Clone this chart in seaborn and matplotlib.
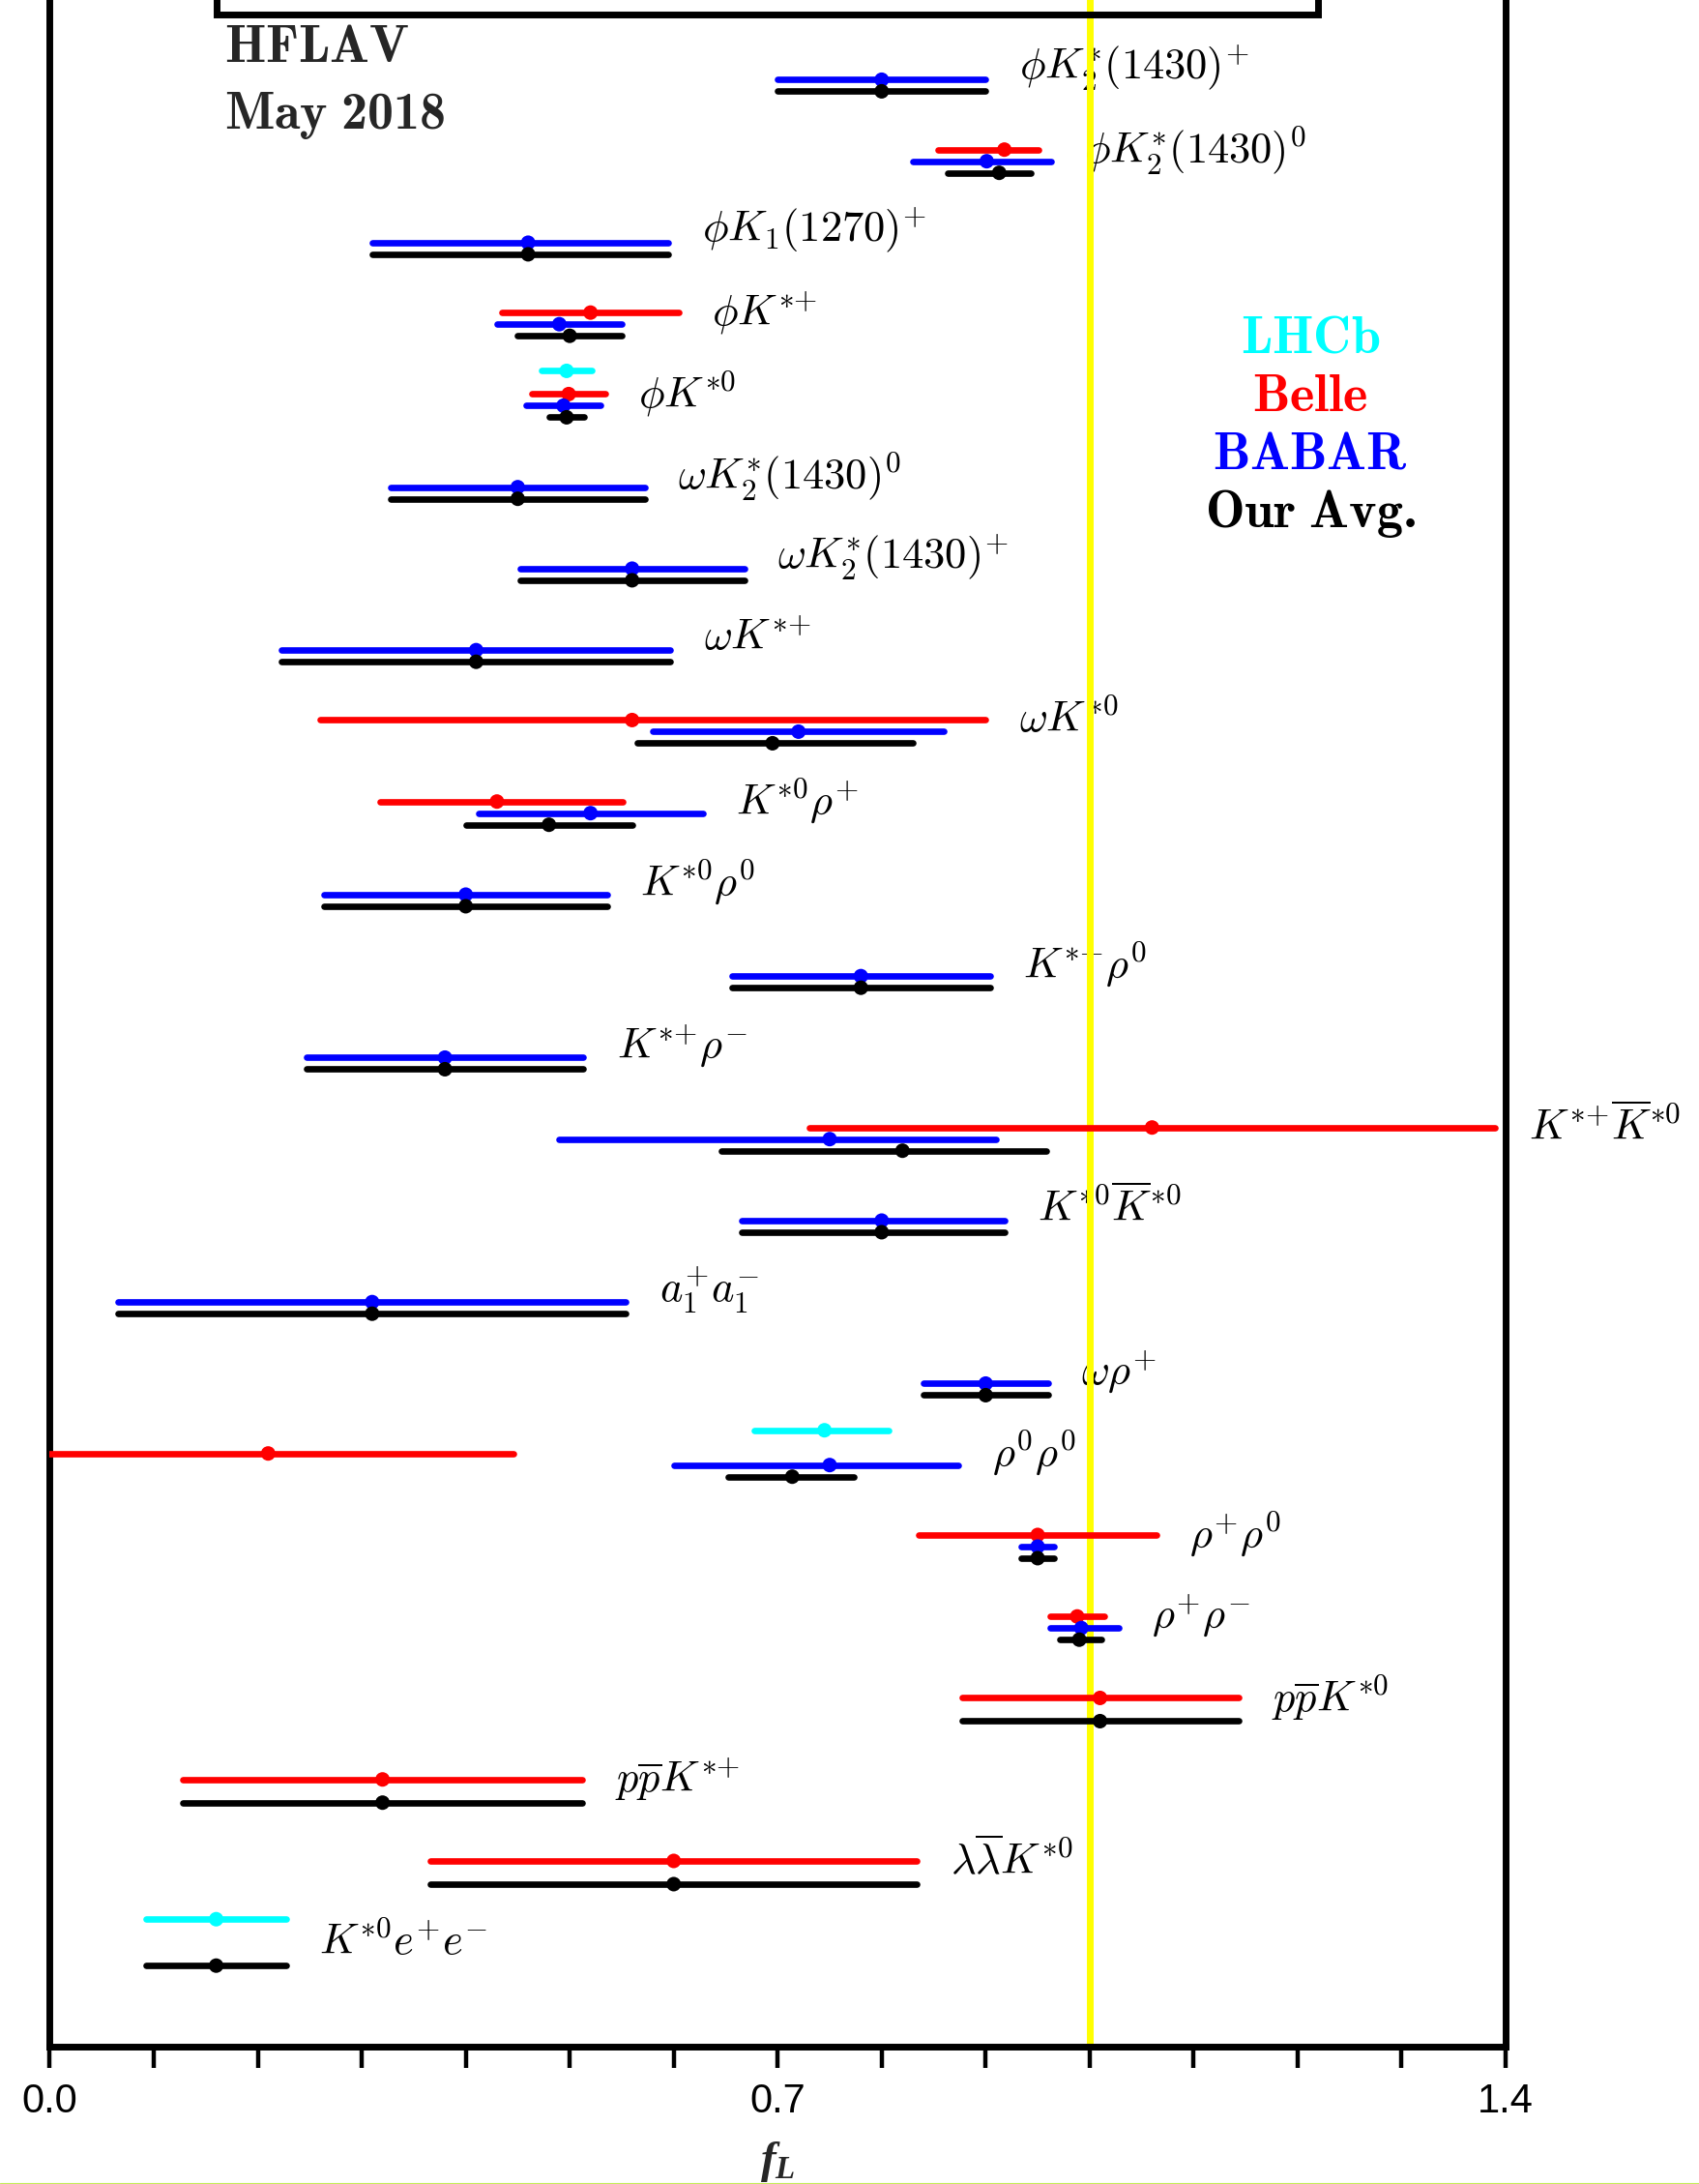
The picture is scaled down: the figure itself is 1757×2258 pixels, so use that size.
import numpy as np
import pandas as pd
import matplotlib
matplotlib.use("Agg")
import matplotlib.pyplot as plt
import seaborn as sns
from matplotlib.patches import Rectangle
from matplotlib.lines import Line2D

# ---------------- data ----------------
modes = [
    r'$\phi K_2^{*}(1430)^{+}$', r'$\phi K_2^{*}(1430)^{0}$', r'$\phi K_1(1270)^{+}$',
    r'$\phi K^{*{+}}$', r'$\phi K^{*0}$', r'$\omega K_2^{*}(1430)^{0}$',
    r'$\omega K_2^{*}(1430)^{+}$', r'$\omega K^{*{+}}$', r'$\omega K^{*0}$',
    r'$K^{*0}\rho^{+}$', r'$K^{*0}\rho^{0}$', r'$K^{*{+}}\rho^{0}$', r'$K^{*{+}}\rho^{-}$',
    r'$K^{*{+}}\overline{K}^{*0}$', r'$K^{*0}\overline{K}^{*0}$', r'$a_1^{+}a_1^{-}$',
    r'$\omega\rho^{+}$', r'$\rho^{0}\rho^{0}$', r'$\rho^{+}\rho^{0}$', r'$\rho^{+}\rho^{-}$',
    r'$p\overline{p}K^{*0}$', r'$p\overline{p}K^{*{+}}$',
    r'$\lambda\overline{\lambda}K^{*0}$', r'$K^{*0}e^{+}e^{-}$',
]

lhcb_modes = [4, 17, 23]
lhcb_val = [0.497, 0.745, 0.160]
lhcb_lo = [0.473, 0.677, 0.093]
lhcb_hi = [0.521, 0.807, 0.227]

belle_modes = [1, 3, 4, 8, 9, 13, 17, 18, 19, 20, 21, 22]
belle_val = [0.918, 0.52, 0.499, 0.56, 0.43, 1.06, 0.21, 0.95, 0.988, 1.01, 0.32, 0.60]
belle_lo = [0.854, 0.435, 0.464, 0.26, 0.318, 0.73, -0.03, 0.836, 0.962, 0.877, 0.128, 0.366]
belle_hi = [0.951, 0.605, 0.534, 0.90, 0.551, 1.39, 0.446, 1.064, 1.014, 1.143, 0.512, 0.834]

babar_modes = list(range(20))
babar_val = [0.80, 0.901, 0.46, 0.49, 0.494, 0.45, 0.56, 0.41, 0.72, 0.52,
             0.40, 0.78, 0.38, 0.75, 0.80, 0.31, 0.90, 0.75, 0.95, 0.992]
babar_lo = [0.70, 0.830, 0.31, 0.43, 0.458, 0.328, 0.452, 0.223, 0.58, 0.412,
            0.264, 0.656, 0.247, 0.49, 0.665, 0.066, 0.84, 0.60, 0.934, 0.962]
babar_hi = [0.90, 0.963, 0.595, 0.55, 0.530, 0.572, 0.668, 0.597, 0.86, 0.628,
            0.536, 0.904, 0.513, 0.91, 0.918, 0.554, 0.96, 0.874, 0.966, 1.028]

avg_modes = list(range(24))
avg_val = [0.80, 0.913, 0.46, 0.50, 0.497, 0.45, 0.56, 0.41, 0.695, 0.48, 0.40, 0.78,
           0.38, 0.82, 0.80, 0.31, 0.90, 0.714, 0.95, 0.990, 1.01, 0.32, 0.60, 0.16]
avg_lo = [0.70, 0.863, 0.31, 0.45, 0.480, 0.328, 0.452, 0.223, 0.565, 0.40, 0.264, 0.656,
          0.247, 0.646, 0.665, 0.066, 0.84, 0.652, 0.934, 0.971, 0.877, 0.128, 0.366, 0.093]
avg_hi = [0.90, 0.943, 0.595, 0.55, 0.514, 0.572, 0.668, 0.597, 0.83, 0.56, 0.536, 0.904,
          0.513, 0.958, 0.918, 0.554, 0.96, 0.773, 0.966, 1.011, 1.143, 0.512, 0.834, 0.227]

experiments = ['LHCb', 'Belle', 'BABAR', 'Avg']
legend_texts = [r'$\mathbf{LHCb}$', r'$\mathbf{Belle}$', r'$\mathbf{BABAR}$', r'$\mathbf{Our\ Avg.}$']
tick_vals = [round(0.1 * i, 1) for i in range(15)]
tick_labels = ['0.0' if v == 0.0 else '0.7' if v == 0.7 else '1.4' if v == 1.4 else '' for v in tick_vals]

# ---------------- style ----------------
colors = {'LHCb': '#00ffff', 'Belle': '#ff0000', 'BABAR': '#0000ff', 'Avg': '#000000'}
slot = {'LHCb': 0, 'Belle': 2, 'BABAR': 3, 'Avg': 4}
slot_step = 0.1424

sns.set_theme(style='white')
plt.rcParams.update({
    'font.family': ['Liberation Sans', 'DejaVu Sans'],
    'mathtext.fontset': 'cm',
    'mathtext.it': 'Liberation Serif:italic:bold',
    'mathtext.rm': 'cmb10',
    'mathtext.bf': 'cmb10',
})

frames = []
for name, m, v, lo, hi in [
    ('LHCb', lhcb_modes, lhcb_val, lhcb_lo, lhcb_hi),
    ('Belle', belle_modes, belle_val, belle_lo, belle_hi),
    ('BABAR', babar_modes, babar_val, babar_lo, babar_hi),
    ('Avg', avg_modes, avg_val, avg_lo, avg_hi),
]:
    frames.append(pd.DataFrame({'group': m, 'exp': name, 'val': v, 'lo': lo, 'hi': hi}))
df = pd.concat(frames, ignore_index=True)
df['y'] = df['group'] + (df['exp'].map(slot) - 2) * slot_step

fig = plt.figure(figsize=(17.58, 22.58), dpi=100)
ax = fig.add_axes([0.02929, 0.06267, 0.85637, 0.96211])
ax.set_facecolor('white')

for name in experiments:
    sub = df[df['exp'] == name]
    ax.hlines(sub['y'], sub['lo'], sub['hi'], colors=colors[name], linewidth=4.8,
              capstyle='round', zorder=3)

sns.scatterplot(data=df, x='val', y='y', hue='exp', palette=colors, s=117,
                linewidth=0, legend=False, ax=ax, zorder=4)

ax.axvline(1.0, color='#ffff00', lw=5, zorder=2.5)

# mode labels
label_x = df.groupby('group')['hi'].max() + 0.032
for g, lab in enumerate(modes):
    ax.text(label_x[g], g, lab, fontsize=32, ha='left', va='center', zorder=2,
            color='black', clip_on=False)

# top texts
ax.text(0.168, -0.071, r'$\mathbf{HFLAV}$', fontsize=39, ha='left', va='baseline',
        math_fontfamily='custom')
ax.text(0.168, 0.748, r'$\mathbf{May\ 2018}$', fontsize=39, ha='left', va='baseline',
        math_fontfamily='custom')
for i, (name, t) in enumerate(zip(experiments, legend_texts)):
    ax.text(1.2121, 3.49 + 0.713 * i, t, fontsize=39, ha='center', va='baseline',
            color=colors[name], math_fontfamily='custom')

# clipped box at the top
ax.add_patch(Rectangle((0.1601, -3.0), 1.2196 - 0.1601, 3.0 - 0.656, fill=False,
                       edgecolor='black', lw=5, clip_on=False, zorder=5))

ax.set_xlim(0, 1.4)
ax.set_ylim(24.285, -1.5)
ax.set_yticks([])
ax.set_xticks(tick_vals)
ax.set_xticklabels(tick_labels)
ax.set_xlabel('')
ax.set_ylabel('')
ax.tick_params(axis='x', direction='out', length=16, width=3.2, pad=10,
               labelsize=30, bottom=True, color='black', labelcolor='black')
for s in ['left', 'right', 'bottom']:
    ax.spines[s].set_linewidth(5)
    ax.spines[s].set_color('black')
ax.spines['top'].set_visible(False)
ax.grid(False)

fig.text(0.4573, 0.0204, r'$f_L$', fontsize=34, ha='center', va='top',
         math_fontfamily='custom')
fig.add_artist(Line2D([0, 1], [0.0003, 0.0003], transform=fig.transFigure,
                      color='#c4ec5a', lw=0.8))

fig.savefig('out.png', dpi=100, facecolor='white')
